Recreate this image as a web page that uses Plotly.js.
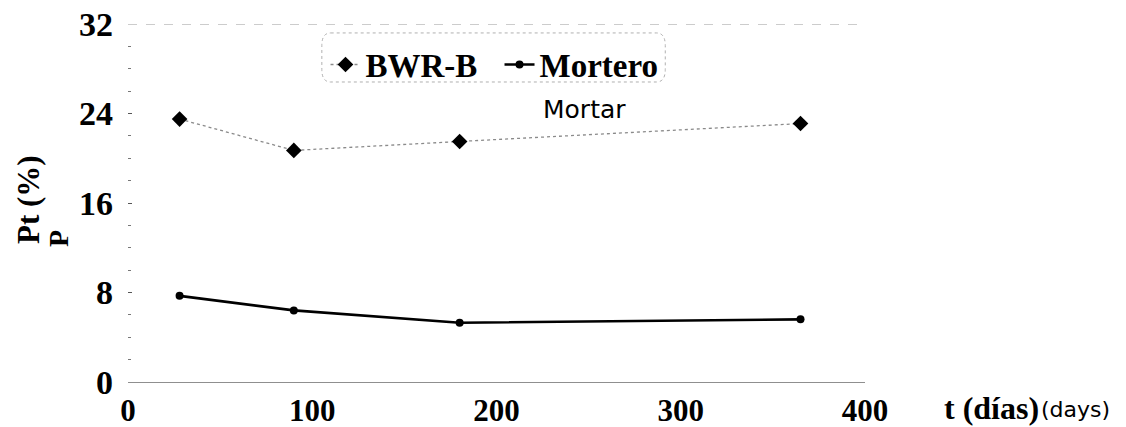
<!DOCTYPE html>
<html><head><meta charset="utf-8">
<script src="https://cdn.plot.ly/plotly-3.0.1.min.js"></script>
<style>body{margin:0;background:#fff}#c{width:1126px;height:427px}</style>
</head><body><div id="c"></div>
<script>
const days = [28, 90, 180, 365];
const bwrB = [23.5, 20.7, 21.5, 23.1];
const mortero = [7.7, 6.4, 5.3, 5.6];
const xTicks = [0, 100, 200, 300, 400];
const yTicks = [0, 8, 16, 24, 32];
const seriesNames = ['BWR-B', 'Mortero'];

const serif = 'Liberation Serif, Times New Roman, serif';
const sans = 'DejaVu Sans, Liberation Sans, sans-serif';

const traces = [
  {x: days, y: bwrB, name: seriesNames[0], mode: 'lines+markers',
   line: {color: '#8a8a8a', width: 1.3, dash: 'dot'},
   marker: {symbol: 'diamond', size: 12, color: '#000'}},
  {x: days, y: mortero, name: seriesNames[1], mode: 'lines+markers',
   line: {color: '#000', width: 2.6},
   marker: {symbol: 'circle', size: 8, color: '#000'}}
];

const layout = {
  width: 1126, height: 427,
  margin: {l: 128, r: 261, t: 24, b: 45},
  paper_bgcolor: '#fff', plot_bgcolor: '#fff',
  showlegend: true,
  legend: {orientation: 'h', x: 0.268, y: 0.965, xanchor: 'left', yanchor: 'top',
    font: {family: serif, size: 33, color: '#000', weight: 'bold'},
    borderwidth: 0, bgcolor: 'rgba(0,0,0,0)',
    itemwidth: 30, tracegroupgap: 0, entrywidth: 129, entrywidthmode: 'pixels'},
  xaxis: {range: [0, 400], tickvals: xTicks, ticktext: xTicks.map(String),
    showgrid: false, zeroline: false, showline: true, mirror: false,
    linecolor: '#8f8f8f', linewidth: 1.3, ticks: '',
    tickfont: {family: serif, size: 31, color: '#000', weight: 'bold'}},
  yaxis: {range: [0, 32], tickvals: yTicks, ticktext: yTicks.map(String),
    showgrid: false, zeroline: false, showline: false,
    ticks: 'inside', ticklen: 4, tickcolor: '#555', tickwidth: 1,
    minor: {dtick: 2, ticks: 'inside', ticklen: 3, tickcolor: '#777', tickwidth: 1, showgrid: false},
    tickfont: {family: serif, size: 34, color: '#000', weight: 'bold'}, ticklabelstandoff: 14},
  shapes: [
    {type: 'line', xref: 'paper', yref: 'y', x0: 0, x1: 0.99, y0: 32, y1: 32,
     line: {color: '#9a9a9a', width: 1.2, dash: 'dash'}},
    {type: 'path', xref: 'paper', yref: 'paper',
     path: 'M 0.275 0.975 L 0.717 0.975 Q 0.729 0.975 0.729 0.94 L 0.729 0.873 Q 0.729 0.838 0.717 0.838 L 0.275 0.838 Q 0.263 0.838 0.263 0.873 L 0.263 0.94 Q 0.263 0.975 0.275 0.975 Z',
     line: {color: '#b0b0b0', width: 1, dash: 'dot'}}
  ],
  annotations: [
    {text: 'Pt (%)', xref: 'paper', yref: 'paper', x: -0.1357, y: 0.511, textangle: -90,
     showarrow: false, xanchor: 'center', yanchor: 'middle',
     font: {family: serif, size: 31, color: '#000', weight: 'bold'}},
    {text: 'P', xref: 'paper', yref: 'paper', x: -0.095, y: 0.402, textangle: -90,
     showarrow: false, xanchor: 'center', yanchor: 'middle',
     font: {family: serif, size: 28, color: '#000', weight: 'bold'}},
    {text: 'Mortar', xref: 'paper', yref: 'paper', x: 0.620, y: 0.760,
     showarrow: false, xanchor: 'center', yanchor: 'middle',
     font: {family: sans, size: 25, color: '#000'}},
    {text: '<b>t (días)</b>', xref: 'paper', yref: 'paper', x: 1.1045, y: -0.074,
     showarrow: false, xanchor: 'left', yanchor: 'middle',
     font: {family: serif, size: 32, color: '#000'}},
    {text: '(days)', xref: 'paper', yref: 'paper', x: 1.236, y: -0.076,
     showarrow: false, xanchor: 'left', yanchor: 'middle',
     font: {family: sans, size: 22, color: '#000'}}
  ]
};
Plotly.newPlot('c', traces, layout, {staticPlot: true});
</script></body></html>
